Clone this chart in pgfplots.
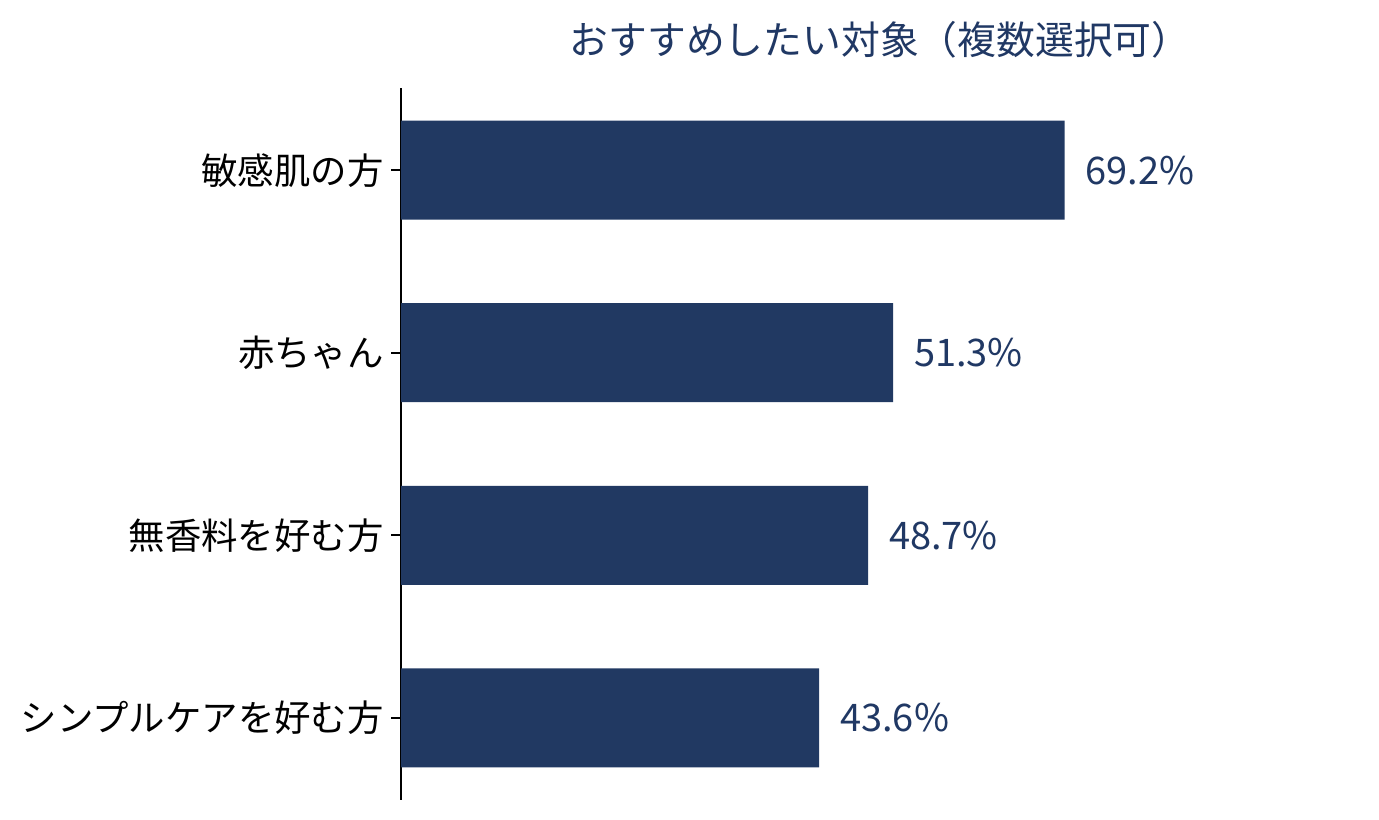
\documentclass[border=0pt]{standalone}
\usepackage{pgfplots}
\pgfplotsset{compat=1.18}
\usepackage{fontspec}
\setmainfont{Noto Sans CJK JP}
\definecolor{barnavy}{RGB}{33,57,98}
\definecolor{titlenavy}{RGB}{32,56,100}
\begin{document}
\begin{tikzpicture}
\path[use as bounding box] (0,0) rectangle (689.5pt,409.5pt);
\begin{axis}[
  at={(200.5pt,9.5pt)}, anchor=south west,
  scale only axis, width=469pt, height=356pt,
  xbar, bar width=49.5pt,
  xmin=0, xmax=97.8,
  ymin=-0.45, ymax=3.45, y dir=reverse,
  axis x line=none,
  axis y line*=left,
  y axis line style={line width=1pt, black},
  ytick={0,1,2,3},
  yticklabels={敏感肌の方,赤ちゃん,無香料を好む方,シンプルケアを好む方},
  tick align=outside, major tick length=5pt,
  y tick style={line width=0.8pt, black},
  yticklabel style={font=\fontsize{18.2}{20}\selectfont, inner xsep=3.5pt, text=black},
  title={おすすめしたい対象（複数選択可）},
  title style={at={(0.5,1)}, anchor=center, yshift=18pt, xshift=5pt, font=\fontsize{19.4}{22}\selectfont, text=titlenavy},
  /pgf/number format/assume math mode=true,
  nodes near coords={\pgfmathprintnumber[fixed,precision=1,fixed zerofill]{\pgfplotspointmeta}\%},
  nodes near coords style={font=\fontsize{19}{21}\selectfont, text=titlenavy, anchor=west, xshift=7pt},
  point meta=explicit,
  clip=false,
]
\addplot[fill=barnavy, draw=none] coordinates {
  (69.2,0) [69.2]
  (51.3,1) [51.3]
  (48.7,2) [48.7]
  (43.6,3) [43.6]
};
\end{axis}
\end{tikzpicture}
\end{document}
